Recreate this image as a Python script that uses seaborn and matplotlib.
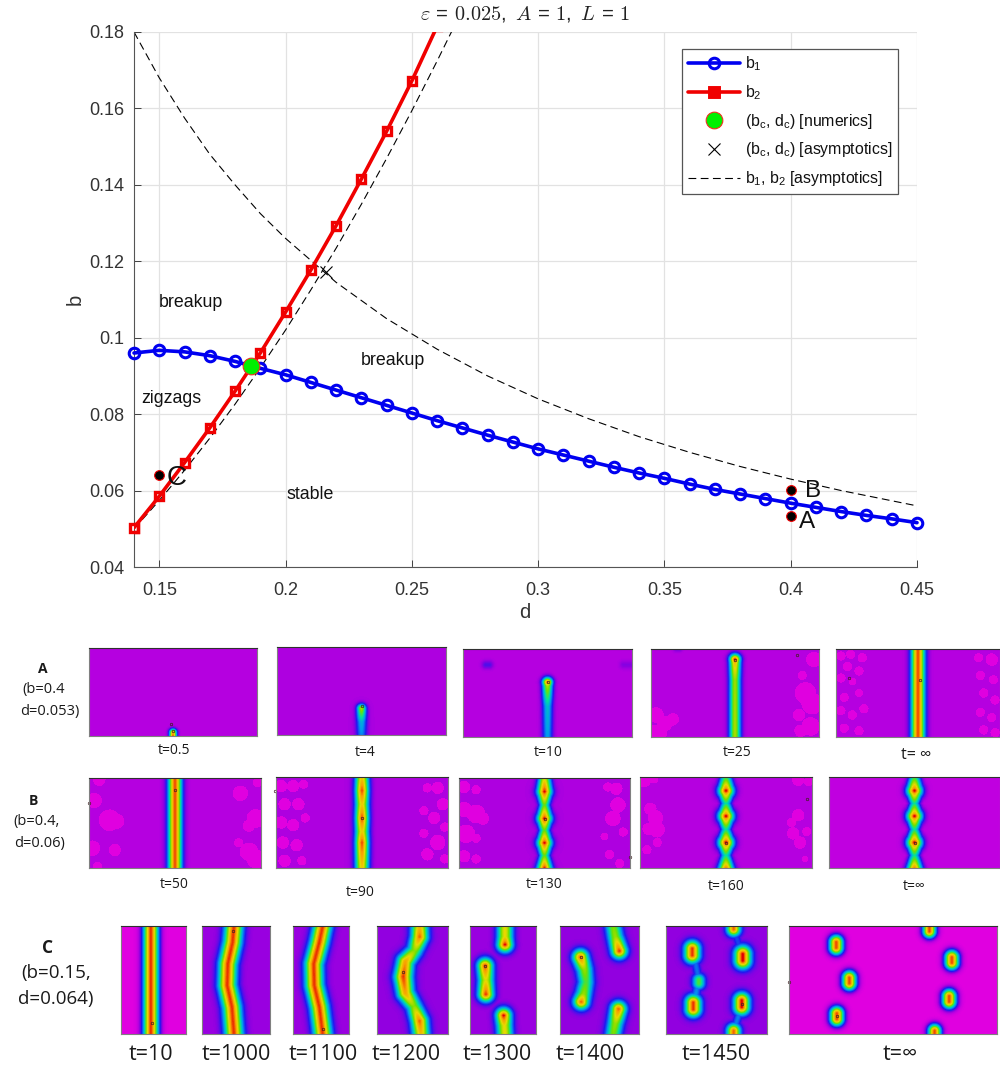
import numpy as np
import matplotlib
matplotlib.use('Agg')
import matplotlib.pyplot as plt
from matplotlib.colors import LinearSegmentedColormap
from matplotlib.lines import Line2D
import seaborn as sns

# curves
d1 = [0.14, 0.15, 0.16, 0.17, 0.18, 0.19, 0.20, 0.21, 0.22, 0.23, 0.24, 0.25, 0.26, 0.27, 0.28, 0.29,
      0.30, 0.31, 0.32, 0.33, 0.34, 0.35, 0.36, 0.37, 0.38, 0.39, 0.40, 0.41, 0.42, 0.43, 0.44, 0.45]
b1 = [0.0960, 0.0967, 0.0963, 0.0953, 0.0938, 0.0920, 0.0903, 0.0883, 0.0863, 0.0843, 0.0823, 0.0803,
      0.0783, 0.0764, 0.0745, 0.0727, 0.0709, 0.0693, 0.0677, 0.0661, 0.0646, 0.0632, 0.0617, 0.0603,
      0.0591, 0.0579, 0.0567, 0.0556, 0.0545, 0.0535, 0.0526, 0.0516]
d2 = [0.14, 0.15, 0.16, 0.17, 0.18, 0.19, 0.20, 0.21, 0.22, 0.23, 0.24, 0.25, 0.26]
b2 = [0.0503, 0.0585, 0.0673, 0.0764, 0.0860, 0.0960, 0.1067, 0.1177, 0.1293, 0.1415, 0.1540, 0.1672, 0.1815]
d_as1 = [0.14, 0.15, 0.16, 0.17, 0.18, 0.19, 0.20, 0.22, 0.24, 0.26, 0.28, 0.30, 0.32, 0.34, 0.36, 0.38, 0.40, 0.42, 0.45]
b_as1 = [0.180, 0.168, 0.1575, 0.148, 0.140, 0.1325, 0.126, 0.1145, 0.105, 0.097, 0.090, 0.084,
         0.0788, 0.0741, 0.070, 0.0663, 0.063, 0.060, 0.056]
d_as2 = [0.14, 0.15, 0.16, 0.17, 0.18, 0.19, 0.20, 0.21, 0.22, 0.23, 0.24, 0.25, 0.26, 0.267]
b_as2 = [0.050, 0.0574, 0.0653, 0.0737, 0.0826, 0.0921, 0.102, 0.1125, 0.1234, 0.1349, 0.1469, 0.1594, 0.1724, 0.1818]
d_crit, b_crit = 0.1865, 0.0927
d_asym, b_asym = 0.216, 0.1172
pt_d = [0.15, 0.40, 0.40]
pt_b = [0.0642, 0.0533, 0.0602]
x_ticks = [0.15, 0.2, 0.25, 0.3, 0.35, 0.4, 0.45]
y_ticks = [0.04, 0.06, 0.08, 0.1, 0.12, 0.14, 0.16, 0.18]

# snapshots: ridges are lists of (x, y, amplitude, width px), x,y as fractions
mid_stripe = [[(0.5, 0, 0.97, 6.5), (0.5, 1, 0.97, 6.5)]]
beads_b3 = [[(0.5, -0.1, 0.6, 5), (0.5, 0.15, 1, 7), (0.5, 0.3, 0.62, 5), (0.5, 0.45, 1, 7),
             (0.5, 0.58, 0.62, 5), (0.5, 0.72, 1, 7), (0.5, 0.86, 0.62, 5), (0.5, 1.0, 1, 7)]]
beads_b4 = [[(0.5, -0.05, 0.4, 5), (0.5, 0.15, 1, 7.5), (0.5, 0.29, 0.5, 5), (0.5, 0.43, 1, 7.5),
             (0.5, 0.575, 0.5, 5), (0.5, 0.72, 1, 7.5), (0.5, 0.86, 0.5, 5), (0.5, 1.02, 1, 7.5)]]
row_a = [
    dict(box=(89, 648, 257, 736), bg=0.06, label='t=0.5', at=(174, 751),
         ridges=[[(0.5, 1.02, 1.0, 3.5), (0.5, 0.96, 0.9, 3.5)]], blobs=[], marks=[(0.49, 0.86), (0.5, 0.94)]),
    dict(box=(277, 647, 446, 735), bg=0.07, label='t=4', at=(365, 752),
         ridges=[[(0.5, 1.05, 0.3, 5), (0.5, 0.85, 0.4, 5), (0.5, 0.7, 0.72, 4.5)]], blobs=[], marks=[(0.5, 0.67)]),
    dict(box=(463, 649, 632, 737), bg=0.06, label='t=10', at=(548, 752),
         ridges=[[(0.5, 1.05, 0.35, 5), (0.5, 0.65, 0.42, 5), (0.5, 0.42, 0.72, 5), (0.5, 0.38, 0.95, 5)],
                 [(0.135, 0.18, 0.16, 4), (0.155, 0.18, 0.16, 4)], [(0.95, 0.18, 0.11, 4), (1.0, 0.18, 0.11, 4)]],
         blobs=[], marks=[(0.5, 0.37)]),
    dict(box=(651, 649, 819, 737), bg=0.06, label='t=25', at=(737, 752),
         ridges=[[(0.5, 1.05, 0.72, 5.5), (0.5, 0.35, 0.7, 5.5), (0.5, 0.16, 0.85, 5.5), (0.5, 0.12, 1.0, 5.5)],
                 [(0.15, 0.0, 0.12, 3), (0.17, 0.0, 0.12, 3)]],
         blobs=[(0.03, 0.75, 5), (0.08, 0.85, 5), (0.13, 0.8, 4), (0.05, 0.95, 5), (0.02, 0.93, 4),
                (0.97, 0.12, 5), (0.9, 0.3, 3), (0.92, 0.5, 7), (0.96, 0.62, 7), (0.88, 0.75, 4),
                (0.95, 0.88, 6), (0.89, 0.93, 4)],
         marks=[(0.5, 0.12), (0.87, 0.07)]),
    dict(box=(836, 649, 1000, 737), bg=0.06, label='t= ∞', at=(916, 755), size=11.5,
         ridges=mid_stripe, blobs=[(0.03, 0.08, 3), (0.09, 0.06, 3), (0.16, 0.1, 3), (0.07, 0.2, 3), (0.14, 0.25, 3),
                                   (0.03, 0.33, 3), (0.1, 0.37, 2.5), (0.05, 0.55, 3), (0.14, 0.5, 2.5),
                                   (0.03, 0.7, 3), (0.1, 0.75, 3), (0.17, 0.68, 3), (0.05, 0.9, 3), (0.14, 0.93, 3),
                                   (0.87, 0.1, 3), (0.95, 0.12, 4), (0.88, 0.3, 3), (0.96, 0.35, 3), (0.9, 0.5, 3),
                                   (0.97, 0.58, 3), (0.88, 0.72, 3), (0.95, 0.78, 3), (0.9, 0.92, 3), (0.97, 0.95, 3)],
         marks=[(0.08, 0.33), (0.51, 0.35)]),
]
row_b = [
    dict(box=(89, 778, 261, 868), bg=0.06, label='t=50', at=(174, 884),
         ridges=mid_stripe, blobs=[(0.03, 0.25, 5), (0.12, 0.47, 7), (0.16, 0.48, 5), (0.02, 0.78, 5), (0.15, 0.8, 4),
                                   (0.06, 0.02, 4), (0.88, 0.17, 5), (0.98, 0.05, 3), (0.97, 0.45, 6), (0.93, 0.53, 4),
                                   (0.93, 0.82, 6), (0.87, 0.72, 3), (0.97, 0.9, 6), (0.05, 0.98, 3)],
         marks=[(0.0, 0.28), (0.5, 0.13)]),
    dict(box=(276, 777, 448, 868), bg=0.07, label='t=90', at=(360, 892),
         ridges=[[(0.5, 0, 0.82, 6.5), (0.5, 0.15, 0.97, 6.5), (0.5, 0.3, 0.82, 6.5), (0.5, 0.45, 0.97, 6.5),
                  (0.5, 0.6, 0.82, 6.5), (0.5, 0.72, 0.97, 6.5), (0.5, 1, 0.82, 6.5)]],
         blobs=[(0.03, 0.1, 4), (0.1, 0.1, 4), (0.16, 0.08, 3), (0.05, 0.3, 4), (0.13, 0.3, 4), (0.03, 0.5, 4),
                (0.1, 0.53, 4), (0.17, 0.45, 3), (0.04, 0.72, 4), (0.12, 0.75, 4), (0.05, 0.92, 4), (0.15, 0.92, 3),
                (0.88, 0.12, 3), (0.94, 0.12, 4), (0.97, 0.3, 4), (0.86, 0.37, 3), (0.92, 0.45, 4), (0.98, 0.55, 3),
                (0.86, 0.62, 3), (0.94, 0.72, 5), (0.88, 0.85, 4), (0.98, 0.9, 3)],
         marks=[(-0.003, 0.15), (0.5, 0.45)]),
    dict(box=(459, 778, 630, 868), bg=0.07, label='t=130', at=(544, 884),
         ridges=beads_b3, blobs=[(0.03, 0.1, 4), (0.1, 0.13, 3), (0.03, 0.35, 5), (0.1, 0.4, 6), (0.14, 0.45, 4),
                                 (0.04, 0.62, 6), (0.1, 0.67, 3), (0.03, 0.87, 4), (0.1, 0.9, 3),
                                 (0.87, 0.1, 3), (0.92, 0.12, 4), (0.93, 0.3, 5), (0.9, 0.45, 5), (0.96, 0.6, 3),
                                 (0.85, 0.65, 2.5), (0.88, 0.85, 3), (0.94, 0.95, 3)],
         marks=[(0.5, 0.45), (1.0, 0.88)]),
    dict(box=(640, 777, 812, 868), bg=0.06, label='t=160', at=(726, 886),
         ridges=beads_b4, blobs=[(0.02, 0.03, 5), (0.08, 0.02, 3), (0.06, 0.35, 4), (0.09, 0.45, 5), (0.1, 0.58, 5),
                                 (0.05, 0.57, 4), (0.1, 0.72, 3), (0.04, 0.8, 3),
                                 (0.92, 0.03, 4), (0.98, 0.05, 3), (0.92, 0.42, 4), (0.88, 0.5, 3), (0.89, 0.62, 4),
                                 (0.93, 0.72, 4), (0.97, 0.6, 3), (0.96, 0.9, 2)],
         marks=[(0.5, 0.72), (0.97, 0.24)]),
    dict(box=(829, 777, 1000, 868), bg=0.045, label='t=∞', at=(914, 886),
         ridges=beads_b4, blobs=[], marks=[(0.5, 0.72)]),
]
row_c = [
    dict(box=(121, 926, 186, 1034), bg=0.0, label='t=10', at=(151, 1054),
         ridges=[[(0.46, 0, 0.98, 7.5), (0.46, 1, 0.98, 7.5)]], blobs=[], marks=[(0.47, 0.9)]),
    dict(box=(202, 926, 270, 1034), bg=0.09, label='t=1000', at=(236, 1054),
         ridges=[[(0.47, 0, 0.98, 8.5), (0.45, 0.15, 0.98, 8.5), (0.38, 0.35, 0.98, 8.5), (0.37, 0.55, 0.98, 8.5),
                  (0.44, 0.75, 0.98, 8.5), (0.47, 1, 0.98, 8.5)]], blobs=[], marks=[(0.46, 0.05)]),
    dict(box=(293, 926, 349, 1034), bg=0.09, label='t=1100', at=(323, 1054),
         ridges=[[(0.53, 0, 0.98, 8.5), (0.47, 0.15, 0.98, 8.5), (0.37, 0.35, 0.98, 8.5), (0.38, 0.55, 0.98, 8.5),
                  (0.47, 0.75, 0.98, 8.5), (0.53, 1, 0.98, 8.5)]], blobs=[], marks=[(0.53, 0.95)]),
    dict(box=(377, 926, 448, 1034), bg=0.1, label='t=1200', at=(406, 1054),
         ridges=[[(0.6, 0, 0.85, 8), (0.6, 0.1, 0.95, 8), (0.53, 0.23, 0.68, 7.5), (0.4, 0.33, 0.9, 8),
                  (0.37, 0.47, 0.98, 8.5), (0.4, 0.62, 0.9, 8), (0.52, 0.74, 0.68, 7.5), (0.6, 0.88, 0.95, 8),
                  (0.62, 1, 0.85, 8)]], blobs=[], marks=[(0.37, 0.43)]),
    dict(box=(470, 926, 536, 1034), bg=0.09, label='t=1300', at=(497, 1054),
         ridges=[[(0.53, -0.02, 0.8, 7.5), (0.53, 0.1, 0.8, 7.5), (0.53, 0.17, 1, 7.5)],
                 [(0.23, 0.37, 0.98, 7.5), (0.24, 0.5, 0.78, 7.5), (0.24, 0.63, 0.98, 7.5)],
                 [(0.51, 0.83, 1, 7.5), (0.52, 0.92, 0.8, 7.5), (0.53, 1.02, 0.8, 7.5)]], blobs=[], marks=[(0.23, 0.37)]),
    dict(box=(560, 926, 639, 1034), bg=0.1, label='t=1400', at=(590, 1054),
         ridges=[[(0.67, -0.02, 0.65, 7.5), (0.7, 0.1, 0.7, 7.5), (0.75, 0.23, 0.98, 7.5)],
                 [(0.26, 0.29, 0.95, 7.5), (0.31, 0.4, 0.7, 7.5), (0.33, 0.52, 0.6, 7.5), (0.3, 0.63, 0.7, 7.5), (0.27, 0.7, 0.95, 7.5)],
                 [(0.74, 0.77, 0.95, 7.5), (0.7, 0.9, 0.7, 7.5), (0.67, 1.02, 0.65, 7.5)]], blobs=[], marks=[(0.26, 0.29)]),
    dict(box=(666, 926, 767, 1034), bg=0.1, label='t=1450', at=(716, 1054),
         ridges=[[(0.26, 0.21, 0.98, 7.5), (0.26, 0.27, 0.98, 7.5)], [(0.325, 0.5, 0.6, 6), (0.325, 0.53, 0.6, 6)],
                 [(0.27, 0.71, 0.98, 7.5), (0.27, 0.77, 0.98, 7.5)], [(0.76, 0.26, 1, 8), (0.76, 0.32, 1, 8)],
                 [(0.75, 0.69, 1, 7.5), (0.75, 0.75, 1, 7.5)], [(0.67, 0.0, 0.95, 6.5), (0.67, 0.03, 0.95, 6.5)],
                 [(0.67, 0.97, 0.95, 6.5), (0.67, 1.0, 0.95, 6.5)],
                 [(0.28, 0.28, 0.3, 4), (0.325, 0.5, 0.3, 4), (0.27, 0.74, 0.38, 5)],
                 [(0.67, 0.03, 0.25, 4), (0.76, 0.28, 0.25, 4)], [(0.75, 0.74, 0.32, 4), (0.67, 0.97, 0.32, 4)]],
         blobs=[], marks=[(0.75, 0.72)]),
    dict(box=(789, 926, 997, 1034), bg=0.0, label='t=∞', at=(900, 1054),
         ridges=[[(0.227, 0.15, 0.97, 7), (0.227, 0.2, 0.97, 7)], [(0.29, 0.48, 0.97, 7), (0.29, 0.53, 0.97, 7)],
                 [(0.23, 0.81, 0.97, 7), (0.23, 0.86, 0.97, 7)], [(0.783, 0.29, 0.97, 7), (0.783, 0.34, 0.97, 7)],
                 [(0.77, 0.65, 0.97, 7), (0.77, 0.7, 0.97, 7)], [(0.675, 0.01, 0.97, 6.5), (0.675, 0.05, 0.97, 6.5)],
                 [(0.70, 0.97, 0.97, 6.5), (0.70, 1.0, 0.97, 6.5)]], blobs=[], marks=[(0.23, 0.83), (0.0, 0.52)]),
]
side_labels = [('A', (43, 669), 10, 'bold'), ('(b=0.4', (44, 690), 10.5, 'normal'), ('d=0.053)', (50, 711), 10.5, 'normal'),
               ('B', (33, 801), 10, 'bold'), ('(b=0.4,', (37, 822), 10.5, 'normal'), ('d=0.06)', (40, 844), 10.5, 'normal'),
               ('C', (48, 948), 12.5, 'bold'), ('(b=0.15,', (56, 973), 13.5, 'normal'), ('d=0.064)', (56, 999), 13.5, 'normal')]

W, H = 1000, 1068
sns.set_theme(style='whitegrid')
plt.rcParams['font.family'] = ['Liberation Sans', 'DejaVu Sans']
plt.rcParams['mathtext.default'] = 'regular'
panel_font = ['Open Sans', 'DejaVu Sans']

field_cmap = LinearSegmentedColormap.from_list('field', [
    (0.0, '#e000e0'), (0.06, '#b400e0'), (0.1, '#9000e0'), (0.2, '#2018f0'), (0.35, '#0098f0'),
    (0.5, '#00e0a0'), (0.65, '#70e000'), (0.8, '#e8d800'), (0.91, '#f8a000'), (0.97, '#f05000'), (1.0, '#e00000')])


def make_axes(fig, box):
    x0, y0, x1, y1 = box
    return fig.add_axes([x0 / W, 1 - y1 / H, (x1 - x0) / W, (y1 - y0) / H])


def build_field(panel):
    x0, y0, x1, y1 = panel['box']
    nx, ny = x1 - x0, y1 - y0
    px, py = np.meshgrid(np.arange(nx) + 0.5, np.arange(ny) + 0.5)
    base = np.full((ny, nx), float(panel['bg']))
    for bx, by, r in panel['blobs']:
        base[np.hypot(px - bx * nx, py - by * ny) < r * 1.55] = 0.0
    field = base.copy()
    for ridge in panel['ridges']:
        for (ax_, ay, aa, aw), (bx, by, ba, bw) in zip(ridge[:-1], ridge[1:]):
            ax_, ay, bx, by = ax_ * nx, ay * ny, bx * nx, by * ny
            seg = (bx - ax_) ** 2 + (by - ay) ** 2
            t = np.clip(((px - ax_) * (bx - ax_) + (py - ay) * (by - ay)) / seg, 0, 1)
            dist = np.hypot(px - ax_ - t * (bx - ax_), py - ay - t * (by - ay))
            amp = aa + t * (ba - aa)
            wid = aw + t * (bw - aw)
            val = base + (amp - base) * np.exp(-(dist / wid) ** 2)
            field = np.maximum(field, val)
    return field


def draw_panel(fig, panel, size):
    ax = make_axes(fig, panel['box'])
    sns.heatmap(build_field(panel), ax=ax, cmap=field_cmap, vmin=0, vmax=1, cbar=False,
                xticklabels=False, yticklabels=False, rasterized=True)
    nx = panel['box'][2] - panel['box'][0]
    ny = panel['box'][3] - panel['box'][1]
    for mx, my in panel['marks']:
        ax.plot(mx * nx, my * ny, marker='o', ms=1.8, mfc='none', mec='#402020', mew=0.5, clip_on=False)
    for side, spine in ax.spines.items():
        spine.set_visible(True)
        spine.set_linewidth(0.8)
        spine.set_color('#303030' if side == 'top' else '#808080')
    tx, ty = panel['at']
    fig.text(tx / W, 1 - ty / H, panel['label'], ha='center', va='center', color='#1a1a1a',
             fontsize=panel.get('size', size), family=panel_font)


fig = plt.figure(figsize=(W / 100, H / 100), dpi=100)
ax = make_axes(fig, (134, 32, 917, 567))

sns.lineplot(x=d_as1, y=b_as1, ax=ax, color='black', lw=0.8, ls=(0, (7, 4)), errorbar=None, sort=False)
sns.lineplot(x=d_as2, y=b_as2, ax=ax, color='black', lw=0.8, ls=(0, (7, 4)), errorbar=None, sort=False)
sns.lineplot(x=d1, y=b1, ax=ax, color='#0000f0', lw=2.6, marker='o', ms=7.6, mfc='none', mec='#0000f0', mew=2.2,
             errorbar=None, clip_on=False, zorder=4)
sns.lineplot(x=d2, y=b2, ax=ax, color='#f00000', lw=2.6, marker='s', ms=5.3, mfc='none', mec='#f00000', mew=2.4,
             errorbar=None, zorder=5)
ax.plot(d2[0], b2[0], marker='s', ms=5.3, mfc='none', mec='#f00000', mew=2.4, clip_on=False, zorder=5)
ax.plot(d_crit, b_crit, marker='o', ms=12, mfc='#00f000', mec='#f03020', mew=0.8, zorder=6)
ax.plot(d_asym, b_asym, marker='x', ms=9, color='black', mew=0.8, zorder=6)
ax.plot(pt_d, pt_b, ls='none', marker='o', ms=7, mfc='black', mec='#f00000', mew=0.8, zorder=6)

ax.text(0.1567, 0.0632, 'C', fontsize=20, ha='center', va='center', color='#111111', zorder=7)
ax.text(0.4064, 0.0518, 'A', fontsize=17.5, ha='center', va='center', color='#111111', zorder=7)
ax.text(0.4088, 0.0600, 'B', fontsize=17.5, ha='center', va='center', color='#111111', zorder=7)
for name, tx, ty in [('breakup', 0.1499, 0.1093), ('breakup', 0.2299, 0.0941), ('zigzags', 0.1428, 0.0842), ('stable', 0.2002, 0.0590)]:
    ax.text(tx, ty, name, fontsize=12.8, color='#111111', va='center', zorder=7)

ax.set_xlim(0.14, 0.45)
ax.set_ylim(0.04, 0.18)
ax.set_xticks(x_ticks, labels=['%g' % v for v in x_ticks])
ax.set_yticks(y_ticks, labels=['%g' % v for v in y_ticks])
ax.grid(True, color='#e2e2e2', lw=0.9)
ax.set_axisbelow(True)
ax.tick_params(direction='in', length=5, width=0.7, color='#404040', labelcolor='#333333', labelsize=13,
               left=True, bottom=True)
ax.tick_params(axis='x', pad=11)
ax.tick_params(axis='y', pad=7)
for side in ('top', 'right'):
    ax.spines[side].set_visible(False)
for side in ('left', 'bottom'):
    ax.spines[side].set_color('#555555')
    ax.spines[side].set_linewidth(0.8)
fig.text(525 / W, 1 - 613 / H, 'd', fontsize=14.5, color='#333333', ha='center', va='center')
fig.text(75 / W, 1 - 299 / H, 'b', fontsize=14.5, color='#333333', ha='center', va='center', rotation=90)
fig.text(525 / W, 1 - 14 / H, r'$\mathit{\varepsilon}\,=\,\mathrm{0.025},\ \mathit{A}\,=\,\mathrm{1},\ \mathit{L}\,=\,\mathrm{1}$',
         fontsize=14.6, color='#222222', ha='center', va='center', math_fontfamily='cm')

handles = [Line2D([], [], color='#0000f0', lw=2.6, marker='o', ms=7.6, mfc='none', mew=2.2),
           Line2D([], [], color='#f00000', lw=2.6, marker='s', ms=6.6, mew=2.1, mfc='#f00000'),
           Line2D([], [], ls='none', marker='o', ms=12, mfc='#00f000', mec='#f03020', mew=0.8),
           Line2D([], [], ls='none', marker='x', ms=9, color='black', mew=0.8),
           Line2D([], [], color='black', lw=0.8, ls=(0, (7, 4)))]
labels = ['b$_1$', 'b$_2$', '(b$_c$, d$_c$) [numerics]', '(b$_c$, d$_c$) [asymptotics]', 'b$_1$, b$_2$ [asymptotics]']
leg = ax.legend(handles, labels, loc='upper left', bbox_to_anchor=(682 / W, 1 - 49 / H),
                bbox_transform=fig.transFigure, fontsize=11.4, frameon=True, fancybox=False, framealpha=1,
                handlelength=3.3, handletextpad=0.35, labelspacing=0.62, borderpad=0.35, borderaxespad=0)
leg.get_frame().set_edgecolor('#555555')
leg.get_frame().set_linewidth(0.9)
for text in leg.get_texts():
    text.set_color('#111111')

for panel in row_a + row_b:
    draw_panel(fig, panel, 10)
for panel in row_c:
    draw_panel(fig, panel, 15.5)
for text, (tx, ty), size, weight in side_labels:
    fig.text(tx / W, 1 - ty / H, text, fontsize=size, fontweight=weight, color='#1a1a1a', ha='center', va='center',
             family=panel_font)

fig.savefig('out.png', dpi=100)
